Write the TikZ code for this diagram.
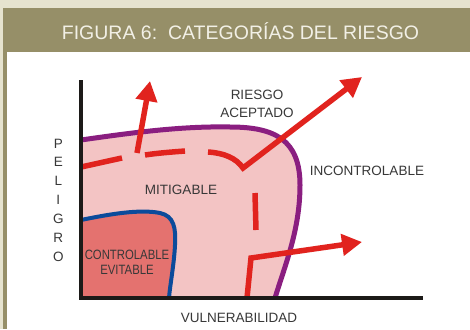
\documentclass[tikz,border=0pt]{standalone}
\usepackage{fontspec}
\setmainfont{Liberation Sans}
\usetikzlibrary{arrows.meta}
\definecolor{beige}{HTML}{E6E3CF}
\definecolor{olive}{HTML}{968F68}
\definecolor{headtxt}{HTML}{F2F0E6}
\definecolor{pinkfill}{HTML}{F3C4C4}
\definecolor{darkfill}{HTML}{E4726F}
\definecolor{purp}{HTML}{8A1E80}
\definecolor{blu}{HTML}{0B4B9B}
\definecolor{rd}{HTML}{E1231E}
\definecolor{txt}{HTML}{383838}
\definecolor{axiscol}{HTML}{1C1A18}
\begin{document}
\begin{tikzpicture}[x=1pt,y=-1pt,
  lbl/.style={font=\fontsize{13.5}{16}\selectfont, text=txt, inner sep=0pt, anchor=base},
  redline/.style={draw=rd, line width=5.5pt, line join=miter},
  redarrow/.style={redline, -{Triangle[length=20pt,width=21pt]}},
]
\useasboundingbox (0,0) rectangle (470,329);
% frame
\fill[beige] (0,0) rectangle (470,329);
\fill[white] (7,52) rectangle (470,329);
\fill[olive] (3,8) rectangle (470,52);
\fill[olive] (3,52) rectangle (7,329);
\node[font=\fontsize{19.5}{22}\selectfont, text=headtxt, anchor=base, inner sep=0pt] (title) at (240.5,39) {FIGURA 6:\ \ CATEGORÍAS DEL RIESGO};
% regions
\fill[pinkfill] (81,140) .. controls (130,133) and (180,126) .. (230,127) .. controls (275,127) and (300,140) .. (300,185) .. controls (300,230) and (285,265) .. (275,298) -- (81,298) -- cycle;
\fill[darkfill] (81,220) .. controls (110,214) and (140,209) .. (160,213) .. controls (174,216) and (176,228) .. (175,245) .. controls (174,265) and (170,285) .. (169,298) -- (81,298) -- cycle;
\draw[purp, line width=5pt] (81,140) .. controls (130,133) and (180,126) .. (230,127) .. controls (275,127) and (300,140) .. (300,185) .. controls (300,230) and (285,265) .. (275,298);
\draw[blu, line width=4pt] (81,220) .. controls (110,214) and (140,209) .. (160,213) .. controls (174,216) and (176,228) .. (175,245) .. controls (174,265) and (170,285) .. (169,298);
% red dashed boundary and arrows
\draw[redline] (81,167) .. controls (95,164) and (108,161) .. (122,158);
\draw[redline] (145,155) .. controls (158,153) and (172,152) .. (185,151);
\draw[redarrow] (208,152) .. controls (224,153) and (236,158) .. (243,168) -- (362,77);
\draw[redline] (255,193) -- (256,230);
\draw[redarrow] (137,153) -- (150,81);
\draw[redarrow] (247,298) -- (251,258) -- (362,242);
% axes
\draw[axiscol, line width=3.5pt] (81,80) -- (81,298) -- (423,298);
% labels
\node[lbl] (riesgo) at (257,99.3) {RIESGO};
\node[lbl] (aceptado) at (257,117.3) {ACEPTADO};
\node[lbl] (mitigable) at (181,194) {MITIGABLE};
\node[lbl] (incontrolable) at (367,175) {INCONTROLABLE};
\node[lbl] (controlable) at (127,259.3) {\scalebox{0.84}[1]{CONTROLABLE}};
\node[lbl] (evitable) at (127,274.3) {\scalebox{0.84}[1]{EVITABLE}};
\node[lbl] (vulnerabilidad) at (239,322) {VULNERABILIDAD};
\foreach \ch [count=\i] in {P,E,L,I,G,R,O}
  \node[lbl] (pel\i) at (58.3,{148+18.9*(\i-1)}) {\ch};
\end{tikzpicture}
\end{document}
